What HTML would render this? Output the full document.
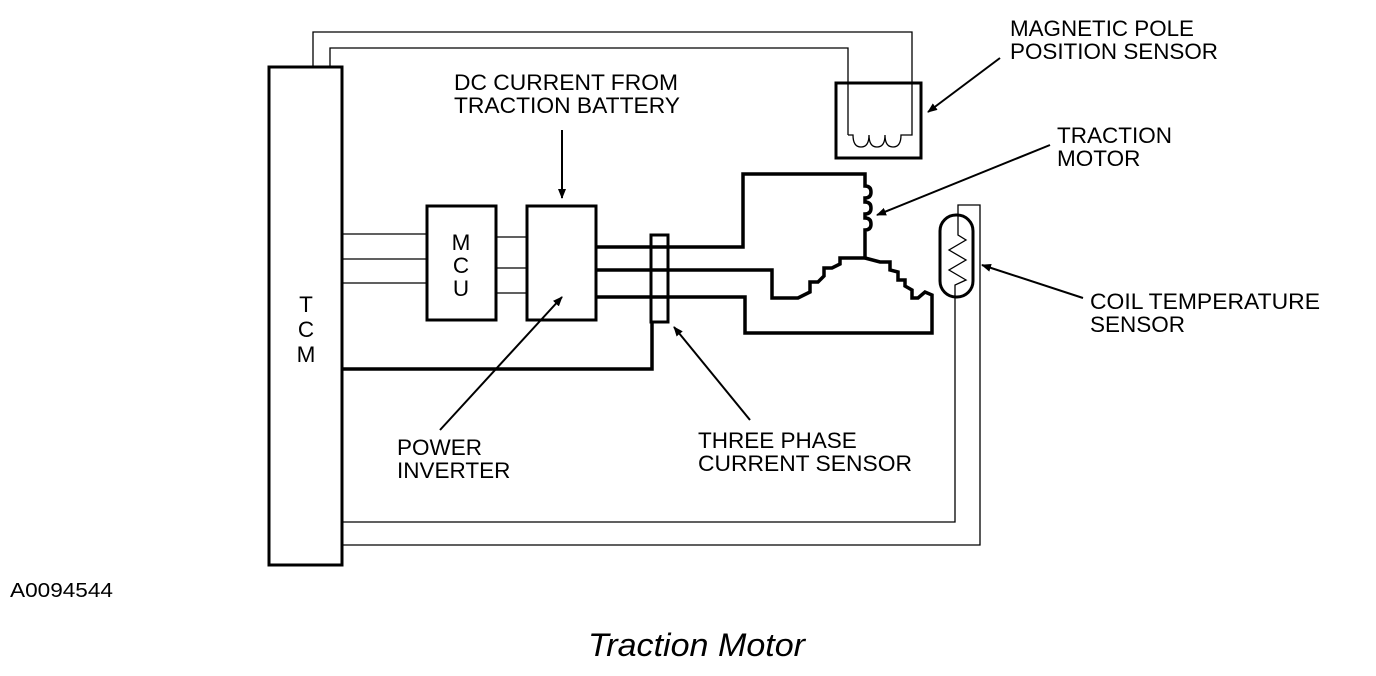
<!DOCTYPE html>
<html><head><meta charset="utf-8"><style>
html,body{margin:0;padding:0;background:#fff;}
svg{display:block;}
text{font-family:"Liberation Sans",sans-serif;fill:#000;}
</style></head><body>
<svg width="1376" height="676" viewBox="0 0 1376 676" xmlns="http://www.w3.org/2000/svg">
<defs><marker id="a" markerWidth="10" markerHeight="8" refX="9" refY="4" orient="auto" markerUnits="userSpaceOnUse"><path d="M0,0 L10,4 L0,8 Z" fill="#000"/></marker></defs>
<g fill="none" stroke="#000">
<rect x="269" y="67" width="73" height="498" stroke-width="3"/>
<path d="M313,67 V32 H912 V83" stroke-width="1.3"/>
<path d="M330,67 V48 H848 V135" stroke-width="1.3"/>
<rect x="836" y="83" width="85" height="75" stroke-width="3"/>
<path d="M848,135 H853 q0,12 8,12 q8,0 8,-12 q0,12 8,12 q8,0 8,-12 q0,12 8,12 q8,0 8,-12 H912 V83" stroke-width="1.3"/>
<rect x="427" y="206" width="69" height="114" stroke-width="3"/>
<rect x="527" y="206" width="69" height="114" stroke-width="3"/>
<path d="M342,234 H427 M342,259 H427 M342,283 H427 M496,237 H527 M496,268 H527 M496,293 H527" stroke-width="1.3"/>
<g stroke-width="3.5">
<path d="M596,247 H743 V174 H865 V186 q6,0 6,6 q0,6 -6,6 v4 q6,0 6,6 q0,6 -6,6 v4 q6,0 6,6 q0,6 -6,6 V258"/>
<path d="M596,270 H772 V298 H798 L810,292 V282 H818 L824,276 V268 H832 L840,264 V258 H848 L865,258"/>
<path d="M596,297 H745 V333 H932 V295 L925,292 L918,298 H912 V290 L905,286 V280 H898 V272 L890,270 V262 L880,262 L865,258"/>
<path d="M342,369 H652 V322"/>
<rect x="651" y="235" width="17" height="87" stroke-width="3"/>
</g>
<rect x="940" y="215" width="33" height="82" rx="16" stroke-width="3"/>
<path d="M958,215 V205 H980 V545 H342" stroke-width="1.3"/>
<path d="M958,215 V235 L966,240 L949,250 L966,260 L949,270 L966,280 L955,285 V522 H342" stroke-width="1.3"/>
<g stroke-width="2">
<path d="M1000,58 L928,112" marker-end="url(#a)"/>
<path d="M562,130 L562,198" marker-end="url(#a)"/>
<path d="M1050,145 L877,215" marker-end="url(#a)"/>
<path d="M440,430 L562,297" marker-end="url(#a)"/>
<path d="M750,420 L674,327" marker-end="url(#a)"/>
<path d="M1083,298 L982,265" marker-end="url(#a)"/>
</g>
</g>
<g font-size="22.5">
<text x="1010" y="36" textLength="184" lengthAdjust="spacingAndGlyphs">MAGNETIC POLE</text>
<text x="1010" y="59" textLength="208" lengthAdjust="spacingAndGlyphs">POSITION SENSOR</text>
<text x="454" y="90" textLength="224" lengthAdjust="spacingAndGlyphs">DC CURRENT FROM</text>
<text x="454" y="113" textLength="226" lengthAdjust="spacingAndGlyphs">TRACTION BATTERY</text>
<text x="1057" y="143">TRACTION</text>
<text x="1057" y="166">MOTOR</text>
<text x="1090" y="309" textLength="230" lengthAdjust="spacingAndGlyphs">COIL TEMPERATURE</text>
<text x="1090" y="332">SENSOR</text>
<text x="397" y="455">POWER</text>
<text x="397" y="478">INVERTER</text>
<text x="698" y="448">THREE PHASE</text>
<text x="698" y="471" textLength="214" lengthAdjust="spacingAndGlyphs">CURRENT SENSOR</text>
<text x="461" y="250" text-anchor="middle">M</text>
<text x="461" y="273" text-anchor="middle">C</text>
<text x="461" y="296" text-anchor="middle">U</text>
<text x="306" y="312" text-anchor="middle">T</text>
<text x="306" y="337" text-anchor="middle">C</text>
<text x="306" y="362" text-anchor="middle">M</text>
</g>
<text x="10" y="597" font-size="20" textLength="103" lengthAdjust="spacingAndGlyphs">A0094544</text>
<text x="588" y="656" font-size="32" font-style="italic" textLength="217" lengthAdjust="spacingAndGlyphs">Traction Motor</text>
</svg>
</body></html>
